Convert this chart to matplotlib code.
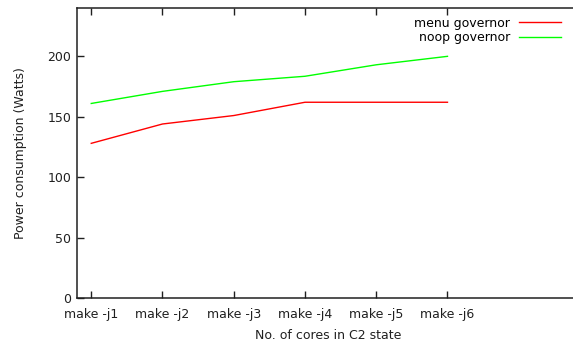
import numpy as np
import matplotlib
matplotlib.use('Agg')
import matplotlib.pyplot as plt

labels = ['make -j1', 'make -j2', 'make -j3', 'make -j4', 'make -j5', 'make -j6']
menu = [128, 144, 151, 162, 162, 162]
noop = [161, 171, 179, 183.5, 193, 200]

x = np.arange(1, len(labels) + 1)

fig = plt.figure(figsize=(5.73, 3.48), dpi=100)
ax = fig.add_axes([77/573, 50/348, 503/573, 290/348])

ax.plot(x, menu, color='#ff0000', lw=1, label='menu governor')
ax.plot(x, noop, color='#00ff00', lw=1, label='noop governor')

ax.set_xlim(0.8, 7.86)
ax.set_ylim(0, 240)
ax.set_xticks(x)
ax.set_xticklabels(labels)
ax.set_yticks([0, 50, 100, 150, 200])
ax.tick_params(direction='in', length=5, width=1, labelsize=9, colors='#202020',
               top=True, right=True, pad=4)
ax.tick_params(axis='x', pad=7)
for s in ax.spines.values():
    s.set_linewidth(1.1)
    s.set_color('#202020')

ax.set_xlabel('No. of cores in C2 state', fontsize=9, color='#202020', labelpad=6)
ax.set_ylabel('Power consumption (Watts)', fontsize=9, color='#202020', labelpad=15)

ax.legend(loc='upper right', frameon=False, markerfirst=False, fontsize=9,
          handlelength=3.4, handletextpad=0.7, labelspacing=0.1,
          bbox_to_anchor=(0.98, 1.0), borderaxespad=0.3)

fig.savefig('out.png', dpi=100)
